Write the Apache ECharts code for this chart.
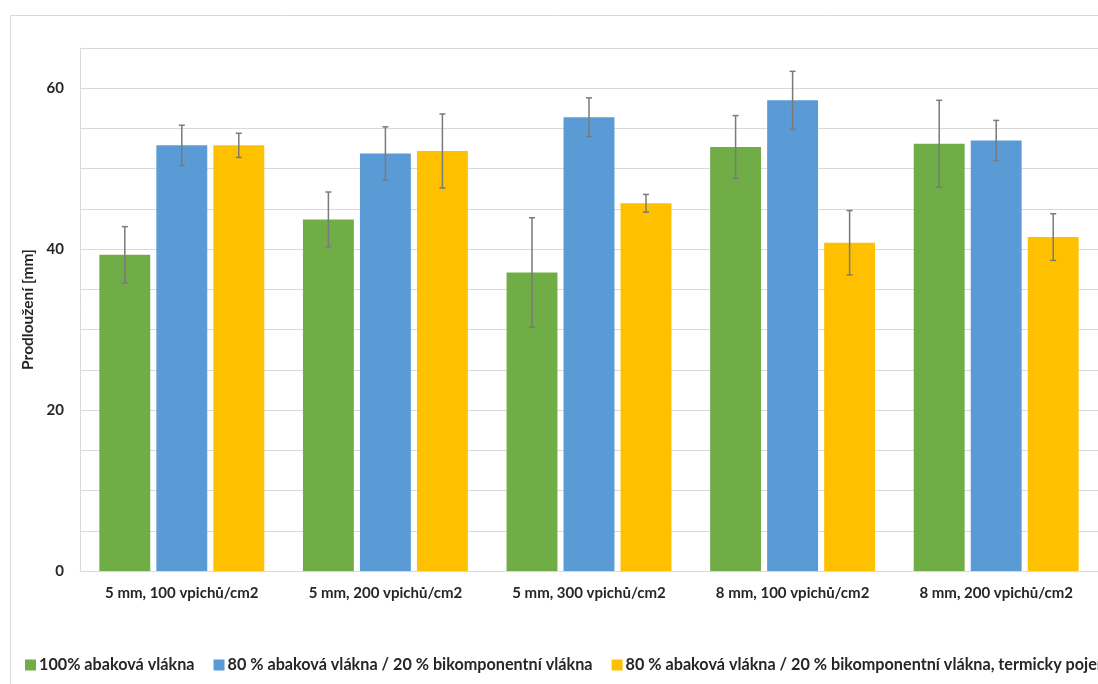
<!DOCTYPE html>
<html><head><meta charset="utf-8">
<script src="https://cdn.jsdelivr.net/npm/echarts@6/dist/echarts.min.js"></script>
<style>html,body{margin:0;padding:0;background:#fff}#c{width:1098px;height:684px}</style>
</head><body><div id="c"></div>
<script>
const categories = ['5 mm, 100 vpichů/cm2','5 mm, 200 vpichů/cm2','5 mm, 300 vpichů/cm2','8 mm, 100 vpichů/cm2','8 mm, 200 vpichů/cm2'];
const seriesNames = ['100% abaková vlákna','80 % abaková vlákna / 20 % bikomponentní vlákna','80 % abaková vlákna / 20 % bikomponentní vlákna, termicky pojená'];
const greenValues = [39.3, 43.7, 37.1, 52.7, 53.1];
const blueValues = [52.9, 51.9, 56.4, 58.5, 53.5];
const yellowValues = [52.9, 52.2, 45.7, 40.8, 41.5];
const greenErr = [3.5, 3.4, 6.8, 3.9, 5.4];
const blueErr = [2.5, 3.3, 2.4, 3.6, 2.5];
const yellowErr = [1.5, 4.6, 1.1, 4.0, 2.9];
const colors = ['#70ad47','#5b9bd5','#ffc000'];
const yTickLabels = [0, 20, 40, 60];

const values = [greenValues, blueValues, yellowValues];
const errs = [greenErr, blueErr, yellowErr];
const font = 'Lato, "Open Sans", sans-serif';
const FS = 15;

const chart = echarts.init(document.getElementById('c'));
const BAR_FRAC = 0.25, GAP = 0.12;
function errSeries(idx) {
  const data = categories.map((c, i) => [i, values[idx][i] - errs[idx][i], values[idx][i] + errs[idx][i]]);
  return {
    type: 'custom', name: 'err' + idx, z: 10, silent: true,
    data: data,
    encode: {x: 0, y: [1, 2]},
    renderItem: function (params, api) {
      const band = api.size([1, 0])[0];
      const off = (idx - 1) * band * BAR_FRAC * (1 + GAP);
      const lo = api.coord([api.value(0), api.value(1)]);
      const hi = api.coord([api.value(0), api.value(2)]);
      const x = lo[0] + off;
      const cap = 3;
      const st = {stroke: '#7a7a7a', lineWidth: 1.5};
      return {type: 'group', children: [
        {type: 'line', shape: {x1: x, y1: lo[1], x2: x, y2: hi[1]}, style: st},
        {type: 'line', shape: {x1: x - cap, y1: lo[1], x2: x + cap, y2: lo[1]}, style: st},
        {type: 'line', shape: {x1: x - cap, y1: hi[1], x2: x + cap, y2: hi[1]}, style: st}
      ]};
    }
  };
}

const barSeries = seriesNames.map((n, k) => ({
  name: n, type: 'bar', data: values[k], barWidth: (BAR_FRAC * 100) + '%', barGap: (GAP * 100) + '%',
  itemStyle: {color: colors[k]}
}));

chart.setOption({
  animation: false,
  backgroundColor: '#fff',
  graphic: [{type: 'rect', shape: {x: 10.5, y: 15.5, width: 1200, height: 800}, style: {fill: 'none', stroke: '#d9d9d9', lineWidth: 1}, z: -10}],
  grid: {left: 80, top: 48, width: 1020, height: 523},
  legend: {
    data: seriesNames, left: 20, top: 652, width: 2000, itemWidth: 11, itemHeight: 11, itemGap: 19,
    icon: 'rect',
    textStyle: {fontFamily: font, fontWeight: 'bold', fontSize: 16.2, color: '#262626', padding: [0, 0, 0, -2]}
  },
  xAxis: {
    type: 'category', data: categories,
    axisLine: {lineStyle: {color: '#d9d9d9', width: 1}},
    axisTick: {show: false},
    axisLabel: {fontFamily: font, fontWeight: 'bold', fontSize: FS, color: '#262626', margin: 15}
  },
  yAxis: {
    type: 'value', min: 0, max: 65, interval: 5,
    name: 'Prodloužení [mm]', nameLocation: 'middle', nameGap: 35, nameRotate: 90,
    nameTextStyle: {fontFamily: font, fontWeight: 'bold', fontSize: 15.5, color: '#262626'},
    axisLine: {show: true, lineStyle: {color: '#d9d9d9'}},
    axisTick: {show: false},
    splitLine: {lineStyle: {color: '#d9d9d9', width: 1}},
    axisLabel: {
      fontFamily: font, fontWeight: 'bold', fontSize: FS, color: '#262626', margin: 16,
      formatter: v => yTickLabels.indexOf(v) >= 0 ? String(v) : ''
    }
  },
  series: barSeries.concat([errSeries(0), errSeries(1), errSeries(2)])
});
</script></body></html>
